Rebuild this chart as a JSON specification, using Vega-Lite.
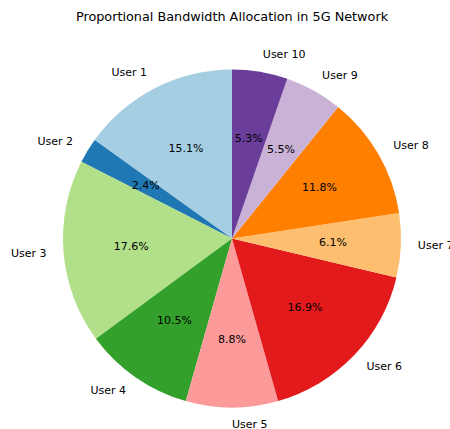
{
  "$schema": "https://vega.github.io/schema/vega-lite/v6.json",
  "autosize": "none",
  "width": 436,
  "height": 381,
  "padding": {"left": 14, "top": 48, "right": 0, "bottom": 0},
  "background": "white",
  "title": {"text": "Proportional Bandwidth Allocation in 5G Network", "font": "DejaVu Sans", "fontSize": 12.8, "fontWeight": "normal", "color": "#000000", "anchor": "middle", "offset": 24},
  "config": {"view": {"stroke": null}},
  "data": {"values": [
    {"user": "User 1", "share": 15.1, "rank": 1},
    {"user": "User 2", "share": 2.4, "rank": 2},
    {"user": "User 3", "share": 17.6, "rank": 3},
    {"user": "User 4", "share": 10.5, "rank": 4},
    {"user": "User 5", "share": 8.8, "rank": 5},
    {"user": "User 6", "share": 16.9, "rank": 6},
    {"user": "User 7", "share": 6.1, "rank": 7},
    {"user": "User 8", "share": 11.8, "rank": 8},
    {"user": "User 9", "share": 5.5, "rank": 9},
    {"user": "User 10", "share": 5.3, "rank": 10}
  ]},
  "transform": [
    {"calculate": "format(datum.share, '.1f') + '%'", "as": "pct"}
  ],
  "encoding": {
    "theta": {"field": "share", "type": "quantitative", "stack": true},
    "order": {"field": "rank", "type": "quantitative", "sort": "descending"}
  },
  "layer": [
    {
      "mark": {"type": "arc", "radius": 169},
      "encoding": {
        "color": {"field": "user", "type": "nominal", "legend": null,
          "scale": {"domain": ["User 1","User 2","User 3","User 4","User 5","User 6","User 7","User 8","User 9","User 10"],
                    "range": ["#a6cee3","#1f78b4","#b2df8a","#33a02c","#fb9a99","#e31a1c","#fdbf6f","#ff7f00","#cab2d6","#6a3d9a"]}}
      }
    },
    {
      "mark": {"type": "text", "radius": 101, "font": "DejaVu Sans", "fontSize": 11, "color": "#000000", "align": "center", "baseline": "middle"},
      "encoding": {"text": {"field": "pct"}}
    },
    {
      "mark": {"type": "text", "radius": 186, "font": "DejaVu Sans", "fontSize": 11, "color": "#000000", "align": "right", "baseline": "middle"},
      "encoding": {"text": {"condition": {"test": "datum.rank <= 4", "field": "user"}, "value": ""}}
    },
    {
      "mark": {"type": "text", "radius": 186, "font": "DejaVu Sans", "fontSize": 11, "color": "#000000", "align": "left", "baseline": "middle"},
      "encoding": {"text": {"condition": {"test": "datum.rank >= 5", "field": "user"}, "value": ""}}
    }
  ]
}
